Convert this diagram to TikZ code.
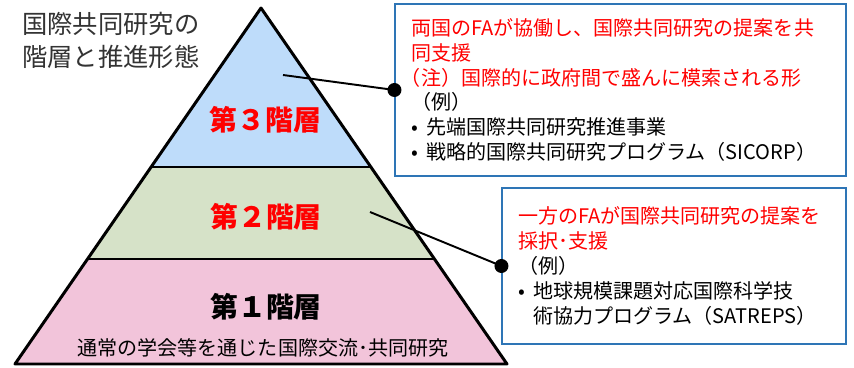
\documentclass[tikz,border=0pt]{standalone}
\usepackage{fontspec}
\setmainfont{Noto Sans CJK JP}
\usepackage{tkz-euclide}
\definecolor{tierthree}{HTML}{BEDCFA}
\definecolor{tiertwo}{HTML}{D6E2C8}
\definecolor{tierone}{HTML}{F2C4DA}
\definecolor{boxblue}{HTML}{2E75B6}

\begin{document}
\begin{tikzpicture}[
    tier/.style={font=\fontsize{15.9}{19}\selectfont\bfseries},
    infobox/.style={draw=boxblue,line width=0.6pt,fill=white,align=left,inner xsep=0.32cm,inner ysep=0pt,font=\fontsize{11.4}{14.2}\selectfont},
    link/.style={line width=1.1pt}]
                \useasboundingbox (0,0) rectangle (17.08,7.36);
                \tkzDefPoints{5.22/7.20/A,0.30/0.08/B,10.14/0.08/C}
                \tkzDefPoints{0/4.02/p,1/4.02/q,0/2.18/r,1/2.18/s}
                \tkzInterLL(A,B)(p,q) \tkzGetPoint{D}
                \tkzInterLL(A,C)(p,q) \tkzGetPoint{E}
                \tkzInterLL(A,B)(r,s) \tkzGetPoint{F}
                \tkzInterLL(A,C)(r,s) \tkzGetPoint{G}
                \tkzFillPolygon[color=tierthree](A,D,E)
                \tkzFillPolygon[color=tiertwo](D,F,G,E)
                \tkzFillPolygon[color=tierone](F,B,C,G)
                \tkzDrawSegments[line width=1.7pt](D,E F,G)
                \tkzDrawPolygon[line width=1.7pt](A,B,C)
                \node[anchor=west,align=left,inner sep=0pt,text=black!80,font=\fontsize{14.4}{18.8}\selectfont] (title) at (0.44,6.55) {国際共同研究の\\階層と推進形態};
                \node[tier,text=red] (third) at (5.31,4.96) {第３階層};
                \node[tier,text=red] (second) at (5.32,3.02) {第２階層};
                \node[tier] (first) at (5.32,1.22) {第１階層};
                \node[font=\fontsize{11.4}{14}\selectfont] (firstnote) at (5.26,0.40) {通常の学会等を通じた国際交流･共同研究};
                \node[infobox,text width=8.38cm,minimum height=3.44cm] (jointbox) at (12.41,5.56) {\textcolor{red}{両国のFAが協働し、国際共同研究の提案を共}\\\textcolor{red}{同支援}\\\textcolor{red}{\hspace*{-0.5em}（注）国際的に政府間で盛んに模索される形}\\（例）\\\makebox[0.75em][l]{•}先端国際共同研究推進事業\\\makebox[0.75em][l]{•}戦略的国際共同研究プログラム（SICORP）};
                \node[infobox,text width=6.24cm,minimum height=3.12cm] (singlebox) at (13.48,2.04) {\textcolor{red}{一方のFAが国際共同研究の提案を}\\\textcolor{red}{採択･支援}\\（例）\\\makebox[0.75em][l]{•}地球規模課題対応国際科学技\\\hspace*{0.75em}術協力プログラム（SATREPS）};
                \coordinate (thirdend) at (5.66,5.86);
                \coordinate (secondend) at (7.40,3.12);
                \draw[link] (thirdend) -- (jointbox.west);
                \draw[link] (secondend) -- (singlebox.west);
                \fill (jointbox.west) circle (0.14);
                \fill (singlebox.west) circle (0.14);
\end{tikzpicture}
\end{document}
